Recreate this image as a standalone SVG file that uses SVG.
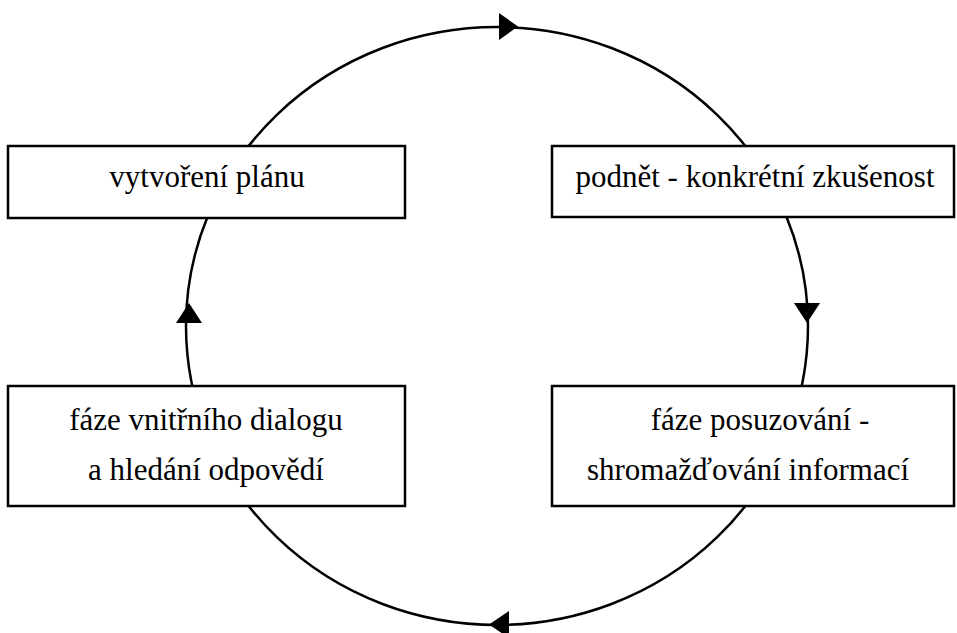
<svg xmlns="http://www.w3.org/2000/svg" width="957" height="633" viewBox="0 0 957 633">
<style>
.box{fill:#fff;stroke:#000;stroke-width:2.5}
.lbl{font-size:31px;fill:#000;text-anchor:middle}
.cyc{fill:none;stroke:#000;stroke-width:2.5}
.ah{fill:#000;stroke:none}
</style>
<rect width="957" height="633" fill="#fff"/>
<g id="connectors">
<ellipse class="cyc" cx="497" cy="326" rx="311" ry="299"/>
<polygon class="ah" points="499,13 518,26.5 499,40"/>
<polygon class="ah" points="794,303 820,303 807,323"/>
<polygon class="ah" points="509,611 489,624.5 509,638"/>
<polygon class="ah" points="176,323 202,323 189,303"/>
</g>
<g font-family="Liberation Serif, DejaVu Serif, serif">
<g id="node-plan">
<rect class="box" x="8" y="146" width="397" height="72"/>
<text class="lbl" x="207" y="187">vytvoření plánu</text>
</g>
<g id="node-podnet">
<rect class="box" x="552" y="146" width="402" height="71"/>
<text class="lbl" x="755" y="187">podnět - konkrétní zkušenost</text>
</g>
<g id="node-dialog">
<rect class="box" x="8" y="386" width="397" height="120"/>
<text class="lbl" x="206" y="430">fáze vnitřního dialogu</text>
<text class="lbl" x="206" y="480">a hledání odpovědí</text>
</g>
<g id="node-posuzovani">
<rect class="box" x="552" y="386" width="402" height="120"/>
<text class="lbl" x="760" y="430">fáze posuzování -</text>
<text class="lbl" x="748" y="480">shromažďování informací</text>
</g>
</g>
</svg>
